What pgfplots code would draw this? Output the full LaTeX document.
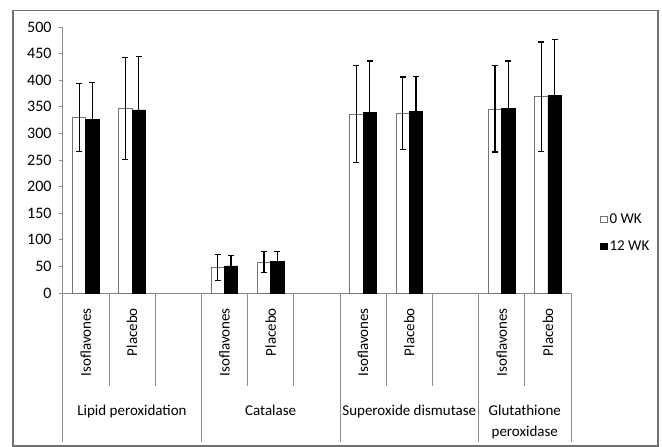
\documentclass[border=0pt]{standalone}
\usepackage{pgfplots}
\pgfplotsset{compat=1.18}
\usepackage{fontspec}
\setmainfont{Carlito}
\definecolor{axgray}{HTML}{8C8C8C}
\definecolor{framegray}{HTML}{707070}
\begin{document}
\fontsize{15}{21}\selectfont
\begin{tikzpicture}
\begin{axis}[
  scale only axis,
  width=508.3pt, height=266pt,
  xmin=-0.5, xmax=10.5,
  ymin=0, ymax=500,
  axis lines*=left,
  axis line style={axgray, line width=0.8pt},
  xtick=\empty,
  ytick={0,50,...,500},
  tick align=outside,
  major tick length=4pt,
  tick style={axgray, line width=0.8pt},
  /pgf/number format/assume math mode=true,
  yticklabel style={font=\fontsize{16}{18}\selectfont, xshift=-2pt},
  ybar, bar width=13.3pt,
  clip=false,
  legend style={draw=none, fill=none, at={(rel axis cs:1.057,0.226)}, anchor=west,
    font=\fontsize{15}{18}\selectfont, row sep=11pt, inner sep=0pt},
  legend cell align=left,
  legend image code/.code={\draw[#1, line width=0.6pt] (0pt,-3.4pt) rectangle (6.8pt,3.4pt);},
  error bars/error bar style={black, line width=1.3pt},
  error bars/error mark options={black, line width=1.3pt, rotate=90, mark size=3pt},
]
\addplot[fill=white, draw=black!55, line width=0.7pt, bar shift=-6.65pt,
  error bars/.cd, y dir=both, y explicit]
  coordinates {(0,330) +- (0,64) (1,347) +- (0,96) (3,48) +- (0,24) (4,58) +- (0,20)
               (6,336) +- (0,91) (7,338) +- (0,68) (9,346) +- (0,81) (10,369) +- (0,103)};
\addlegendentry{0 WK}
\addplot[fill=black, draw=black, line width=0.7pt, bar shift=6.65pt,
  error bars/.cd, y dir=both, y explicit]
  coordinates {(0,326) +- (0,70) (1,344) +- (0,100) (3,51) +- (0,20) (4,59) +- (0,19)
               (6,340) +- (0,96) (7,341) +- (0,66) (9,347) +- (0,89) (10,371) +- (0,105)};
\addlegendentry{12 WK}
% separators
\pgfplotsinvokeforeach{-0.5,2.5,5.5,8.5,10.5}{
  \draw[axgray, line width=0.8pt] (axis cs:#1,0) -- ++(0pt,-148.7pt);
}
\pgfplotsinvokeforeach{0.5,1.5,3.5,4.5,6.5,7.5,9.5}{
  \draw[axgray, line width=0.8pt] (axis cs:#1,0) -- ++(0pt,-92.7pt);
}
% category labels
\pgfplotsinvokeforeach{0,3,6,9}{
  \node[rotate=90, anchor=east, inner sep=0pt] at ([yshift=-15pt]axis cs:#1,0) {Isoflavones};
}
\pgfplotsinvokeforeach{1,4,7,10}{
  \node[rotate=90, anchor=east, inner sep=0pt] at ([yshift=-15pt]axis cs:#1,0) {Placebo};
}
\node[anchor=base, inner sep=0pt] at ([yshift=-122pt]axis cs:1,0) {Lipid peroxidation};
\node[anchor=base, inner sep=0pt] at ([yshift=-122pt]axis cs:4,0) {Catalase};
\node[anchor=base, inner sep=0pt] at ([yshift=-122pt]axis cs:7,0) {Superoxide dismutase};
\node[anchor=base, inner sep=0pt] at ([yshift=-122pt]axis cs:9.5,0) {Glutathione};
\node[anchor=base, inner sep=0pt] at ([yshift=-143pt]axis cs:9.5,0) {peroxidase};
\coordinate (O) at (axis cs:-0.5,0);
\end{axis}
\draw[framegray, line width=1.1pt] ([shift={(-49.7pt,-153pt)}]O) rectangle ([shift={(595.3pt,282.3pt)}]O);
\path[use as bounding box] ([shift={(-62.7pt,-154pt)}]O) rectangle ([shift={(599.3pt,293pt)}]O);
\end{tikzpicture}
\end{document}
